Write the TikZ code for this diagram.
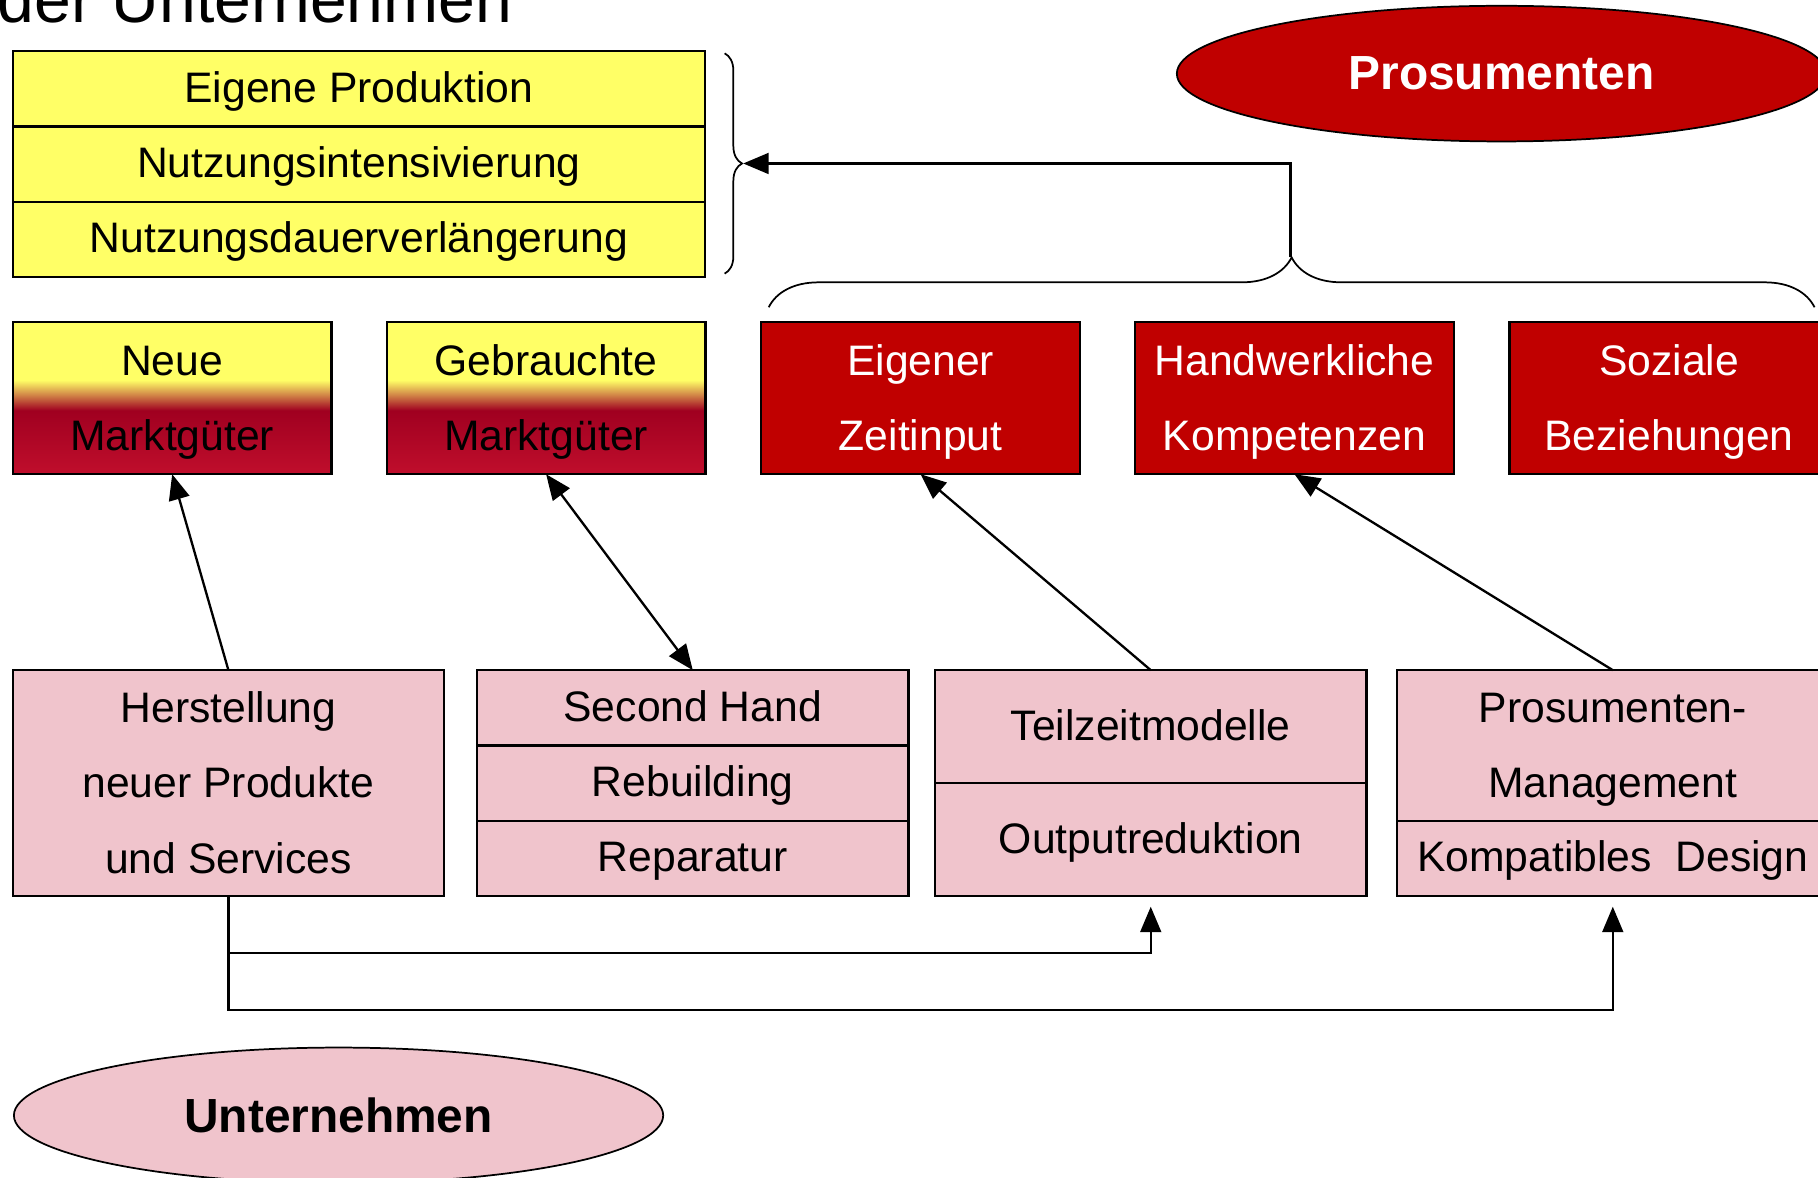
\documentclass[tikz,border=0pt]{standalone}
\usepackage{fontspec}
\setmainfont{Liberation Sans}
\usetikzlibrary{arrows.meta,shapes.geometric,decorations.pathreplacing}

\definecolor{gelb}{RGB}{255,255,102}
\definecolor{rot}{RGB}{192,0,0}
\definecolor{rosa}{RGB}{240,196,204}
\definecolor{dunkelrot}{RGB}{160,0,32}
\definecolor{karmin}{RGB}{192,14,44}
\definecolor{ocker}{RGB}{208,130,70}
\pgfdeclareverticalshading{marktverlauf}{100bp}{color(0bp)=(karmin); color(25bp)=(karmin); color(46bp)=(dunkelrot); color(51bp)=(ocker); color(56bp)=(gelb); color(100bp)=(gelb)}

\begin{document}
\begin{tikzpicture}[x=1pt,y=-1pt,
    feld/.style={draw, line width=2pt, inner sep=0pt, outer sep=0pt, align=center, text height=26pt, text depth=3pt, font=\fontsize{36.8}{65}\selectfont},
    zweizeilig/.style={text height=91pt, text depth=1pt},
    dreizeilig/.style={text height=156pt, text depth=1pt},
    tabelle/.style={feld, fill=gelb, minimum width=597pt, minimum height=65pt},
    markt/.style={feld, zweizeilig, shade, shading=marktverlauf, minimum width=275pt, minimum height=131pt},
    ressource/.style={feld, zweizeilig, fill=rot, text=white, minimum width=275pt, minimum height=131pt},
    angebot/.style={feld, fill=rosa, minimum width=372pt},
    oval/.style={ellipse, draw, line width=1.5pt, inner sep=0pt, minimum width=560pt, minimum height=117pt, font=\fontsize{41.3}{48}\selectfont\bfseries},
    pfeil/.style={line width=2pt, -{Triangle[length=22pt,width=18pt]}},
    klammer/.style={line width=1.5pt, decorate}]
    \useasboundingbox (0,0) rectangle (1568,1016);
    \clip (0,0) rectangle (1568,1016);

    % Titel (oben angeschnitten)
    \node[anchor=base west, inner sep=0pt, font=\fontsize{57}{60}\selectfont] (titel) at (-2,19) {der Unternehmen};

    % Strategien der Prosumenten
    \node[tabelle] (eigen) at (309.5,76.5) {Eigene Produktion};
    \node[tabelle] (nutzint) at (309.5,141.5) {Nutzungsintensivierung};
    \node[tabelle] (nutzdauer) at (309.5,206.5) {Nutzungsdauerverlängerung};
    \node[oval, fill=rot, text=white] (prosum) at (1295,63.5) {Prosumenten};

    % Ressourcen
    \node[markt] (neu) at (148.5,343.5) {Neue\\Marktgüter};
    \node[markt] (gebr) at (471,343.5) {Gebrauchte\\Marktgüter};
    \node[ressource] (zeit) at (794,343.5) {Eigener\\Zeitinput};
    \node[ressource] (handw) at (1116.5,343.5) {Handwerkliche\\Kompetenzen};
    \node[ressource] (sozial) at (1439.5,343.5) {Soziale\\Beziehungen};

    % Klammern
    \draw[klammer, decoration={brace, amplitude=15pt}] (625,46) -- (625,236);
    \draw[klammer, decoration={brace, amplitude=43pt}] (663,265) -- (1565,265);
    \coordinate (tabspitze) at (641,141);
    \coordinate (prospitze) at (1113,222);
    \draw[pfeil] (prospitze) |- (tabspitze);

    % Angebote der Unternehmen
    \node[angebot, dreizeilig, minimum height=195pt] (herst) at (197,675.5) {Herstellung\\neuer Produkte\\und Services};
    \node[angebot, minimum height=65pt] (second) at (597.5,610.5) {Second Hand};
    \node[angebot, minimum height=65pt] (rebuild) at (597.5,675.5) {Rebuilding};
    \node[angebot, minimum height=65pt] (repar) at (597.5,740.5) {Reparatur};
    \node[angebot, minimum height=97.5pt] (teilz) at (992.5,626.75) {Teilzeitmodelle};
    \node[angebot, minimum height=97.5pt] (output) at (992.5,724.25) {Outputreduktion};
    \node[angebot, zweizeilig, minimum height=130pt] (prosman) at (1391,643) {Prosumenten-\\Management};
    \node[angebot, minimum height=65pt] (kompat) at (1391,740.5) {Kompatibles\ \ Design};
    \node[oval, fill=rosa] (untern) at (292,962) {Unternehmen};

    % Verbindungen
    \draw[pfeil] (herst.north) -- (neu.south);
    \draw[pfeil, {Triangle[length=22pt,width=18pt]}-{Triangle[length=22pt,width=18pt]}] (gebr.south) -- (second.north);
    \draw[pfeil] (teilz.north) -- (zeit.south);
    \draw[pfeil] (prosman.north) -- (handw.south);
    \draw[pfeil, shorten >=9pt] (herst.south) -- ++(0,49) -| (output.south);
    \draw[pfeil, shorten >=9pt] (herst.south) -- ++(0,98) -| (kompat.south);
\end{tikzpicture}
\end{document}
